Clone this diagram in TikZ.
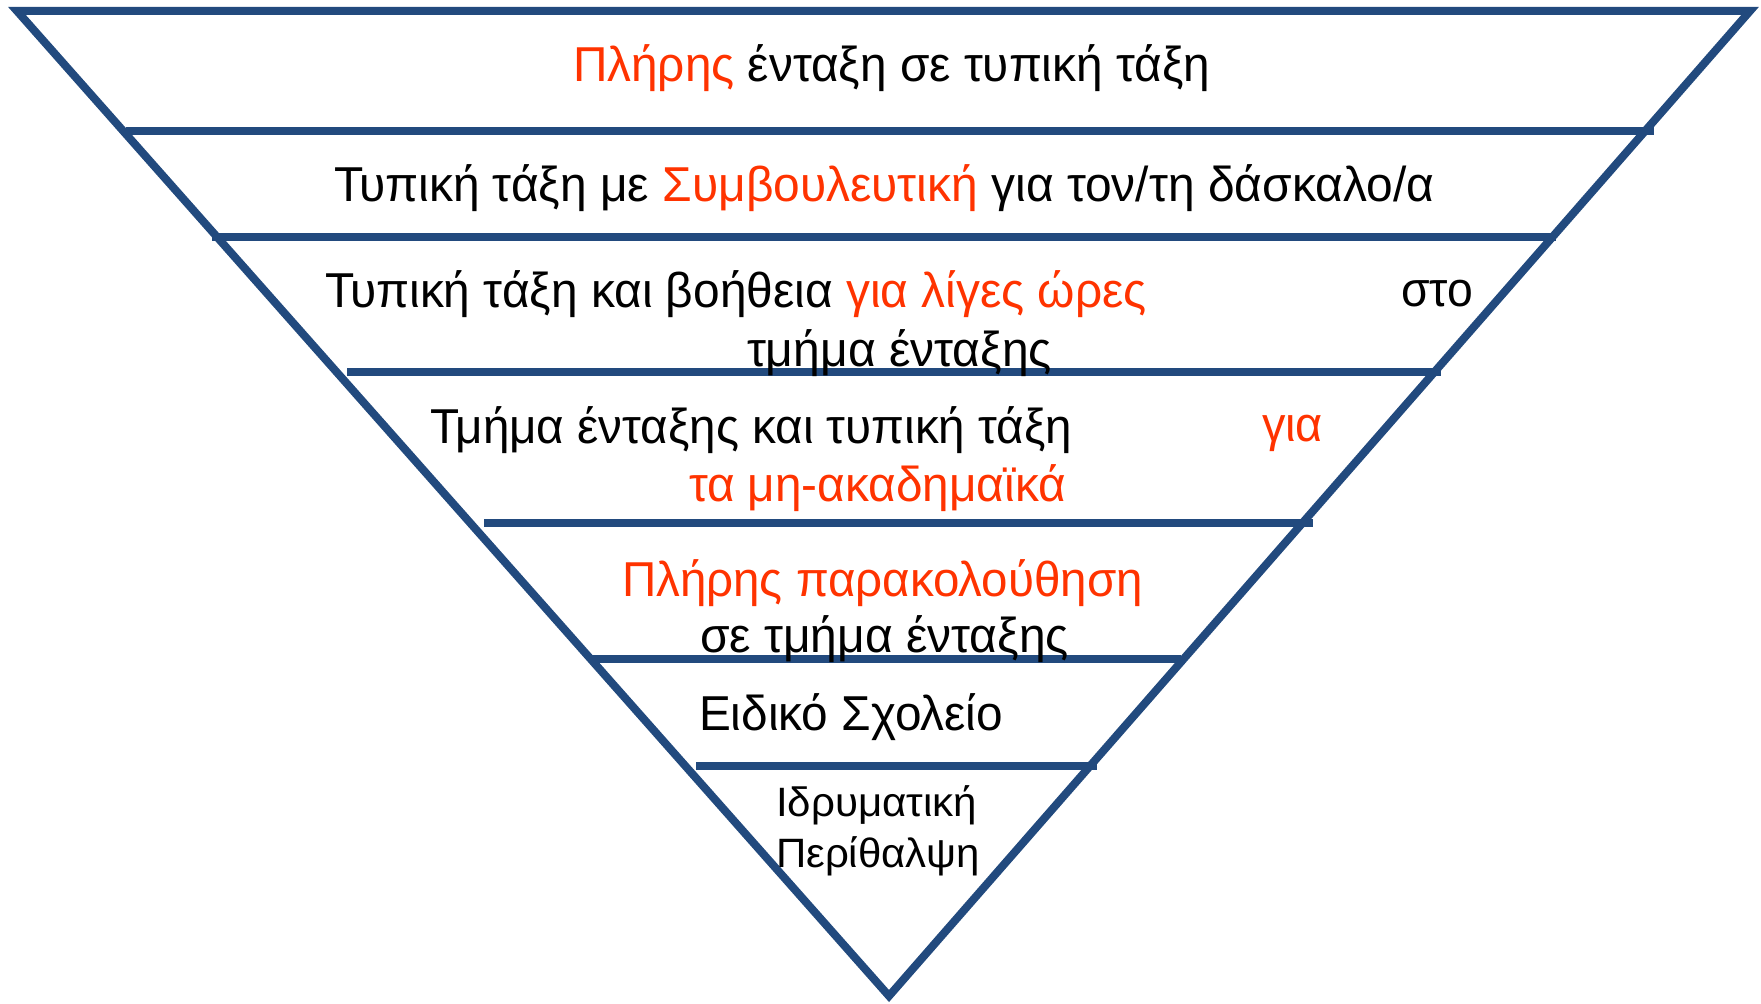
\documentclass[tikz,border=0pt]{standalone}
\usepackage{fontspec}
\setmainfont{Liberation Sans}
\usepackage{graphicx}
\definecolor{pyrblue}{RGB}{34,74,126}
\definecolor{pyrred}{RGB}{255,51,0}
\newcommand{\fitw}[2]{\resizebox{#1}{\height}{#2}}
\newcommand{\rd}[1]{\textcolor{pyrred}{#1}}
\tikzset{
  edge/.style={draw=pyrblue, line width=4pt, line join=miter},
  bar/.style={draw=pyrblue, line width=4pt},
  txt/.style={inner sep=0pt, outer sep=0pt, anchor=base west, font=\fontsize{24.5}{28}\selectfont},
  smalltxt/.style={txt, font=\fontsize{20.5}{24}\selectfont}
}
\begin{document}
\begin{tikzpicture}[x=0.5pt, y=-0.5pt]
\useasboundingbox (0,0) rectangle (1761,1004);
% triangle
\coordinate (tl) at (17,11);
\coordinate (tr) at (1750,11);
\coordinate (ap) at (889,996);
\draw[edge] (tl) -- (tr) -- (ap) -- cycle;
% level bars
\coordinate (b1l) at (126,131); \coordinate (b1r) at (1654,131);
\coordinate (b2l) at (212,237); \coordinate (b2r) at (1556,237);
\coordinate (b3l) at (347,372); \coordinate (b3r) at (1441,372);
\coordinate (b4l) at (484,523); \coordinate (b4r) at (1313,523);
\coordinate (b5l) at (589,659); \coordinate (b5r) at (1181,659);
\coordinate (b6l) at (696,766); \coordinate (b6r) at (1097,766);
\draw[bar] (b1l) -- (b1r);
\draw[bar] (b2l) -- (b2r);
\draw[bar] (b3l) -- (b3r);
\draw[bar] (b4l) -- (b4r);
\draw[bar] (b5l) -- (b5r);
\draw[bar] (b6l) -- (b6r);
% texts
\node[txt] (t1) at (573,82) {\fitw{318.5pt}{\rd{Πλήρης} ένταξη σε τυπική τάξη}};
\node[txt] (t2) at (334,202) {\fitw{550pt}{Τυπική τάξη με \rd{Συμβουλευτική} για τον/τη δάσκαλο/α}};
\node[txt] (t3a) at (325,308) {\fitw{411pt}{Τυπική τάξη και βοήθεια \rd{για λίγες ώρες}}};
\node[txt] (t3s) at (1401,307) {\fitw{36pt}{στο}};
\node[txt] (t3b) at (747,367) {\fitw{152.5pt}{τμήμα ένταξης}};
\node[txt] (t4a) at (430,444) {\fitw{321pt}{Τμήμα ένταξης και τυπική τάξη}};
\node[txt] (t4g) at (1262,442) {\fitw{30.5pt}{\rd{για}}};
\node[txt] (t4b) at (689,502) {\fitw{188.5pt}{\rd{τα μη-ακαδημαϊκά}}};
\node[txt] (t5a) at (622,597) {\fitw{260.5pt}{\rd{Πλήρης παρακολούθηση}}};
\node[txt] (t5b) at (700,653) {\fitw{184.5pt}{σε τμήμα ένταξης}};
\node[txt] (t6) at (699,731) {\fitw{152pt}{Ειδικό Σχολείο}};
\node[smalltxt] (t7a) at (776,816) {\fitw{100.5pt}{Ιδρυματική}};
\node[smalltxt] (t7b) at (776,867) {\fitw{102pt}{Περίθαλψη}};
\end{tikzpicture}
\end{document}
